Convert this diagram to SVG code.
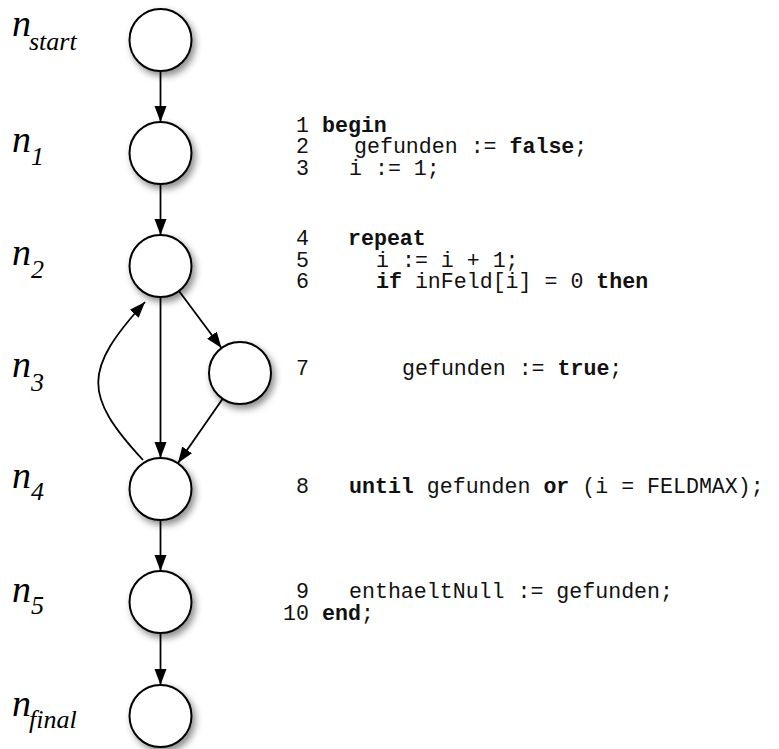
<svg xmlns="http://www.w3.org/2000/svg" width="779" height="749" viewBox="0 0 779 749">
<style>
.node circle{fill:#fff;stroke:#000;stroke-width:2;filter:url(#sh)}
.lbl{font-family:"Liberation Serif","Times New Roman",serif;font-style:italic;fill:#000}
.lbl .m{font-size:38px}
.lbl .s{font-size:26px}
.code{font-family:"Liberation Mono","Courier New",monospace;font-size:21.6px;fill:#111}
.num{text-anchor:end}
.b{font-weight:bold}
.edges path{fill:none;stroke:#000;stroke-width:1.8;marker-end:url(#ah)}
</style>
<defs>
<filter id="sh" x="-40%" y="-40%" width="190%" height="190%">
<feDropShadow dx="3" dy="4" stdDeviation="3.5" flood-color="#000" flood-opacity="0.45"/>
</filter>
<marker id="ah" markerUnits="userSpaceOnUse" markerWidth="18" markerHeight="14" refX="16" refY="6.5" orient="auto">
<path d="M0,0.5 L16,6.5 L0,12.5 z" fill="#000"/>
</marker>
</defs>

<g class="edges" id="edges">
<path d="M160.5,71 L160.5,122"/>
<path d="M160.5,184 L160.5,235"/>
<path d="M160.5,297 L160.5,458"/>
<path d="M179,291 L221.5,348"/>
<path d="M222.5,399 L178,463"/>
<path d="M143,460 C83,395 83,370 145,302"/>
<path d="M160.5,520 L160.5,571"/>
<path d="M160.5,633 L160.5,685"/>
</g>

<g class="node" id="n_start"><circle cx="160.5" cy="40" r="31"/></g>
<g class="node" id="n_1"><circle cx="160.5" cy="153" r="31"/></g>
<g class="node" id="n_2"><circle cx="160.5" cy="266" r="31"/></g>
<g class="node" id="n_3"><circle cx="240" cy="373" r="31"/></g>
<g class="node" id="n_4"><circle cx="160.5" cy="489" r="31"/></g>
<g class="node" id="n_5"><circle cx="160.5" cy="602" r="31"/></g>
<g class="node" id="n_final"><circle cx="160.5" cy="716" r="31"/></g>

<g id="labels" class="lbl">
<text x="12" y="36"><tspan class="m">n</tspan><tspan class="s" x="29" y="50">start</tspan></text>
<text x="12" y="152"><tspan class="m">n</tspan><tspan class="s" x="31" y="165">1</tspan></text>
<text x="12" y="265"><tspan class="m">n</tspan><tspan class="s" x="31" y="278">2</tspan></text>
<text x="12" y="377"><tspan class="m">n</tspan><tspan class="s" x="31" y="391">3</tspan></text>
<text x="12" y="488"><tspan class="m">n</tspan><tspan class="s" x="31" y="500">4</tspan></text>
<text x="12" y="602"><tspan class="m">n</tspan><tspan class="s" x="31" y="614">5</tspan></text>
<text x="12" y="716"><tspan class="m">n</tspan><tspan class="s" x="29" y="728">final</tspan></text>
</g>

<g id="code" class="code">
<text class="num" x="309" y="132">1</text>
<text x="322" y="132"><tspan class="b">begin</tspan></text>
<text class="num" x="309" y="153">2</text>
<text x="354" y="153">gefunden := <tspan class="b">false</tspan>;</text>
<text class="num" x="309" y="175">3</text>
<text x="349" y="175">i := 1;</text>
<text class="num" x="309" y="245">4</text>
<text x="348" y="245"><tspan class="b">repeat</tspan></text>
<text class="num" x="309" y="267">5</text>
<text x="376" y="267">i := i + 1;</text>
<text class="num" x="309" y="288">6</text>
<text x="376" y="288"><tspan class="b">if</tspan> inFeld[i] = 0 <tspan class="b">then</tspan></text>
<text class="num" x="309" y="375">7</text>
<text x="402" y="375">gefunden := <tspan class="b">true</tspan>;</text>
<text class="num" x="309" y="493">8</text>
<text x="349" y="493"><tspan class="b">until</tspan> gefunden <tspan class="b">or</tspan> (i = FELDMAX);</text>
<text class="num" x="309" y="598">9</text>
<text x="349" y="598">enthaeltNull := gefunden;</text>
<text class="num" x="309" y="620">10</text>
<text x="322" y="620"><tspan class="b">end</tspan>;</text>
</g>
</svg>
